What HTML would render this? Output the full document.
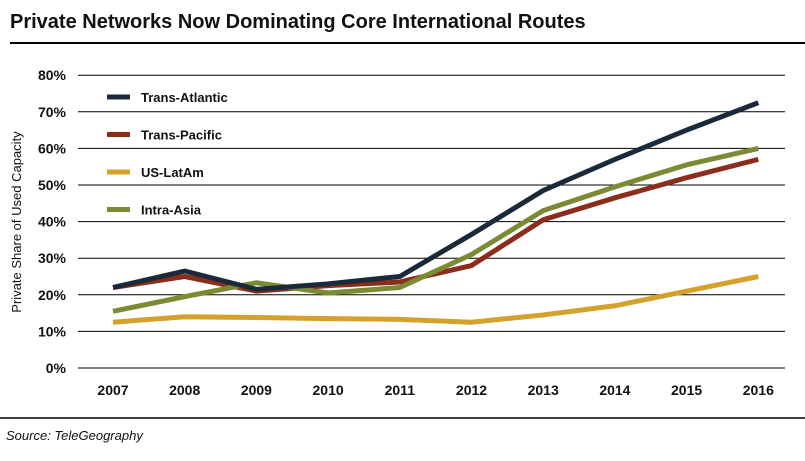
<!DOCTYPE html>
<html><head><meta charset="utf-8"><style>
body{margin:0;background:#fff;width:805px;height:456px;overflow:hidden;font-family:"Liberation Sans",sans-serif}
</style></head><body>
<svg id="chart" width="805" height="456" xmlns="http://www.w3.org/2000/svg">
<text x="10" y="28" font-size="20" font-weight="bold" fill="#111">Private Networks Now Dominating Core International Routes</text>
<line x1="10" y1="43" x2="805" y2="43" stroke="#000" stroke-width="2"/>
<line x1="0" y1="418" x2="805" y2="418" stroke="#000" stroke-width="1.5"/>
<text x="6" y="440" font-size="13" font-style="italic" fill="#111">Source: TeleGeography</text>
<text transform="translate(21,222) rotate(-90)" text-anchor="middle" font-size="13" fill="#111">Private Share of Used Capacity</text>
<g id="grid"></g><g id="series"></g><g id="legend"></g>
</svg>
<script>
const years=["2007","2008","2009","2010","2011","2012","2013","2014","2015","2016"];
const yTicks=[0,10,20,30,40,50,60,70,80];
const seriesNames=["Trans-Atlantic","Trans-Pacific","US-LatAm","Intra-Asia"];
const transAtlantic=[22,26.5,21.5,23,25,36.5,48.5,57,65,72.5];
const transPacific=[22,25,21,22.5,23.5,28,40.5,46.5,52,57];
const usLatAm=[12.5,14,13.8,13.5,13.3,12.5,14.5,17,21,25];
const intraAsia=[15.5,19.5,23.3,20.5,22,31,43,49.5,55.5,60];
const colors=["#1b2a3a","#8a2e1b","#d3a12c","#7b8b34"];
const NS="http://www.w3.org/2000/svg";
const x=i=>113+i*71.7;
const y=v=>368-v*3.66;
function mk(t,a,p){const e=document.createElementNS(NS,t);for(const k in a)e.setAttribute(k,a[k]);p.appendChild(e);return e;}
const grid=document.getElementById('grid');
yTicks.forEach(t=>{
  const l=mk('line',{x1:78,x2:785,y1:y(t),y2:y(t),stroke:'#000','stroke-width':1},grid);
  
  
  const tx=mk('text',{x:66,y:y(t)+5,'text-anchor':'end','font-size':14,'font-weight':'bold',fill:'#111'},grid);
  tx.textContent=t+'%';
  
  
});
years.forEach((yr,i)=>{
  const tx=mk('text',{x:x(i),y:395,'text-anchor':'middle','font-size':14,'font-weight':'bold',fill:'#111'},grid);
  tx.textContent=yr;
  
  
});
const data=[transAtlantic,transPacific,usLatAm,intraAsia];
const sg=document.getElementById('series'),lg=document.getElementById('legend');
[2,1,3,0].forEach(s=>{
  const p=mk('polyline',{points:data[s].map((v,i)=>x(i)+','+y(v)).join(' '),fill:'none',stroke:colors[s],'stroke-width':5,'stroke-linejoin':'round'},sg);
  
  
});
seriesNames.forEach((n,s)=>{
  const yy=97+s*37.5;
  const l=mk('line',{x1:107,x2:130,y1:yy,y2:yy,stroke:colors[s],'stroke-width':5},lg);
  
  
  const t=mk('text',{x:141,y:yy+5,'font-size':13,'font-weight':'bold',fill:'#111'},lg);
  t.textContent=n;
  
  
});
</script>
</body></html>
